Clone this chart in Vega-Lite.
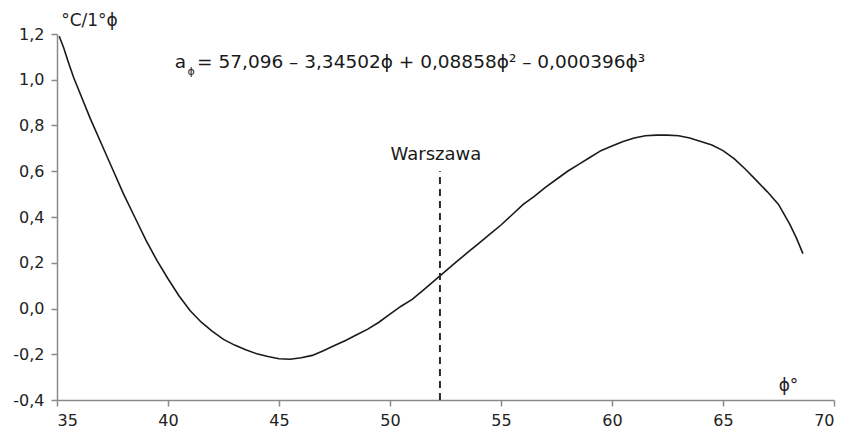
{
  "$schema": "https://vega.github.io/schema/vega-lite/v6.json",
  "width": 777,
  "height": 366,
  "autosize": {"type": "none"},
  "padding": {"left": 57, "top": 34, "right": 13, "bottom": 37},
  "background": "white",
  "config": {
    "view": {"stroke": null},
    "font": "DejaVu Sans",
    "axis": {
      "grid": false,
      "domainColor": "#8a8a8a",
      "domainWidth": 1.5,
      "tickColor": "#8a8a8a",
      "tickWidth": 1.5,
      "tickSize": 6,
      "labelFont": "DejaVu Sans",
      "labelFontSize": 16,
      "labelColor": "#222222",
      "titleFont": "DejaVu Sans",
      "titleFontWeight": "normal",
      "titleFontSize": 17,
      "titleColor": "#222222"
    }
  },
  "datasets": {
    "curve": [
      {"phi": 35.1, "a": 1.19},
      {"phi": 35.3, "a": 1.14},
      {"phi": 35.5, "a": 1.08},
      {"phi": 35.75, "a": 1.01},
      {"phi": 36.0, "a": 0.95},
      {"phi": 36.5, "a": 0.83},
      {"phi": 37.0, "a": 0.72},
      {"phi": 37.5, "a": 0.61},
      {"phi": 38.0, "a": 0.5},
      {"phi": 38.5, "a": 0.4},
      {"phi": 39.0, "a": 0.3},
      {"phi": 39.5, "a": 0.21},
      {"phi": 40.0, "a": 0.13},
      {"phi": 40.5, "a": 0.055},
      {"phi": 41.0, "a": -0.01},
      {"phi": 41.5, "a": -0.06},
      {"phi": 42.0, "a": -0.1},
      {"phi": 42.5, "a": -0.135},
      {"phi": 43.0, "a": -0.16},
      {"phi": 43.5, "a": -0.18},
      {"phi": 44.0, "a": -0.198},
      {"phi": 44.5, "a": -0.21},
      {"phi": 45.0, "a": -0.22},
      {"phi": 45.5, "a": -0.222},
      {"phi": 46.0, "a": -0.215},
      {"phi": 46.5, "a": -0.205},
      {"phi": 47.0, "a": -0.185},
      {"phi": 47.5, "a": -0.162},
      {"phi": 48.0, "a": -0.14},
      {"phi": 48.5, "a": -0.115},
      {"phi": 49.0, "a": -0.09},
      {"phi": 49.5, "a": -0.06},
      {"phi": 50.0, "a": -0.025},
      {"phi": 50.5, "a": 0.01},
      {"phi": 51.0, "a": 0.04},
      {"phi": 51.5, "a": 0.08},
      {"phi": 52.0, "a": 0.122},
      {"phi": 52.5, "a": 0.163},
      {"phi": 53.0, "a": 0.205},
      {"phi": 53.5, "a": 0.245},
      {"phi": 54.0, "a": 0.285},
      {"phi": 54.5, "a": 0.325},
      {"phi": 55.0, "a": 0.365},
      {"phi": 55.5, "a": 0.41},
      {"phi": 56.0, "a": 0.455},
      {"phi": 56.5, "a": 0.49},
      {"phi": 57.0, "a": 0.53},
      {"phi": 57.5, "a": 0.565},
      {"phi": 58.0, "a": 0.6},
      {"phi": 58.5, "a": 0.63},
      {"phi": 59.0, "a": 0.66},
      {"phi": 59.5, "a": 0.69},
      {"phi": 60.0, "a": 0.71},
      {"phi": 60.5, "a": 0.73},
      {"phi": 61.0, "a": 0.745},
      {"phi": 61.5, "a": 0.755},
      {"phi": 62.0, "a": 0.758},
      {"phi": 62.5, "a": 0.758},
      {"phi": 63.0, "a": 0.755},
      {"phi": 63.5, "a": 0.745},
      {"phi": 64.0, "a": 0.73},
      {"phi": 64.5, "a": 0.715},
      {"phi": 65.0, "a": 0.69},
      {"phi": 65.5, "a": 0.655},
      {"phi": 66.0, "a": 0.61},
      {"phi": 66.5, "a": 0.56},
      {"phi": 67.0, "a": 0.51},
      {"phi": 67.5, "a": 0.455},
      {"phi": 68.0, "a": 0.37},
      {"phi": 68.3, "a": 0.31},
      {"phi": 68.6, "a": 0.24}
    ],
    "warsaw": [
      {"phi": 52.25, "a0": -0.4, "a1": 0.6, "label": "Warszawa", "labelPhi": 52.07, "labelA": 0.65}
    ],
    "formulaHead": [{"phi": 40.81, "a": 1.078, "part": "a"}],
    "formulaSub": [{"phi": 41.04, "a": 1.034, "part": "ϕ"}],
    "formulaBody": [{"phi": 41.31, "a": 1.078, "part": "= 57,096 – 3,34502ϕ + 0,08858ϕ² – 0,000396ϕ³"}]
  },
  "layer": [
    {
      "data": {"name": "curve"},
      "mark": {"type": "line", "color": "#1a1a1a", "strokeWidth": 1.6, "clip": false},
      "encoding": {
        "x": {
          "field": "phi",
          "type": "quantitative",
          "scale": {"domain": [35, 70], "nice": false, "zero": false},
          "axis": {
            "values": [35, 40, 45, 50, 55, 60, 65, 70],
            "labelPadding": 6,
            "title": "ϕ°",
            "titleAlign": "center",
            "titleX": 731,
            "titleY": -10,
            "titleBaseline": "alphabetic"
          }
        },
        "y": {
          "field": "a",
          "type": "quantitative",
          "scale": {"domain": [-0.4, 1.2], "nice": false, "zero": false},
          "axis": {
            "values": [-0.4, -0.2, 0, 0.2, 0.4, 0.6, 0.8, 1.0, 1.2],
            "labelExpr": "replace(replace(format(datum.value, '.1f'), '.', ','), '−', '-')",
            "labelPadding": 7,
            "title": "°C/1°ϕ",
            "titleAngle": 0,
            "titleAlign": "center",
            "titleBaseline": "alphabetic",
            "titleX": 32,
            "titleY": -9
          }
        }
      }
    },
    {
      "data": {"name": "warsaw"},
      "mark": {"type": "rule", "color": "#2a2a2a", "strokeWidth": 2, "strokeDash": [7, 5]},
      "encoding": {
        "x": {"field": "phi", "type": "quantitative"},
        "y": {"field": "a0", "type": "quantitative"},
        "y2": {"field": "a1"}
      }
    },
    {
      "data": {"name": "warsaw"},
      "mark": {"type": "text", "fontSize": 18, "color": "#1a1a1a", "align": "center", "baseline": "alphabetic"},
      "encoding": {
        "x": {"field": "labelPhi", "type": "quantitative"},
        "y": {"field": "labelA", "type": "quantitative"},
        "text": {"field": "label"}
      }
    },
    {
      "data": {"name": "formulaHead"},
      "mark": {"type": "text", "fontSize": 18.5, "color": "#1a1a1a", "baseline": "middle", "align": "right"},
      "encoding": {
        "x": {"field": "phi", "type": "quantitative"},
        "y": {"field": "a", "type": "quantitative"},
        "text": {"field": "part"}
      }
    },
    {
      "data": {"name": "formulaSub"},
      "mark": {"type": "text", "fontSize": 11, "color": "#1a1a1a", "baseline": "middle", "align": "center"},
      "encoding": {
        "x": {"field": "phi", "type": "quantitative"},
        "y": {"field": "a", "type": "quantitative"},
        "text": {"field": "part"}
      }
    },
    {
      "data": {"name": "formulaBody"},
      "mark": {"type": "text", "fontSize": 18.5, "color": "#1a1a1a", "baseline": "middle", "align": "left"},
      "encoding": {
        "x": {"field": "phi", "type": "quantitative"},
        "y": {"field": "a", "type": "quantitative"},
        "text": {"field": "part"}
      }
    }
  ]
}
